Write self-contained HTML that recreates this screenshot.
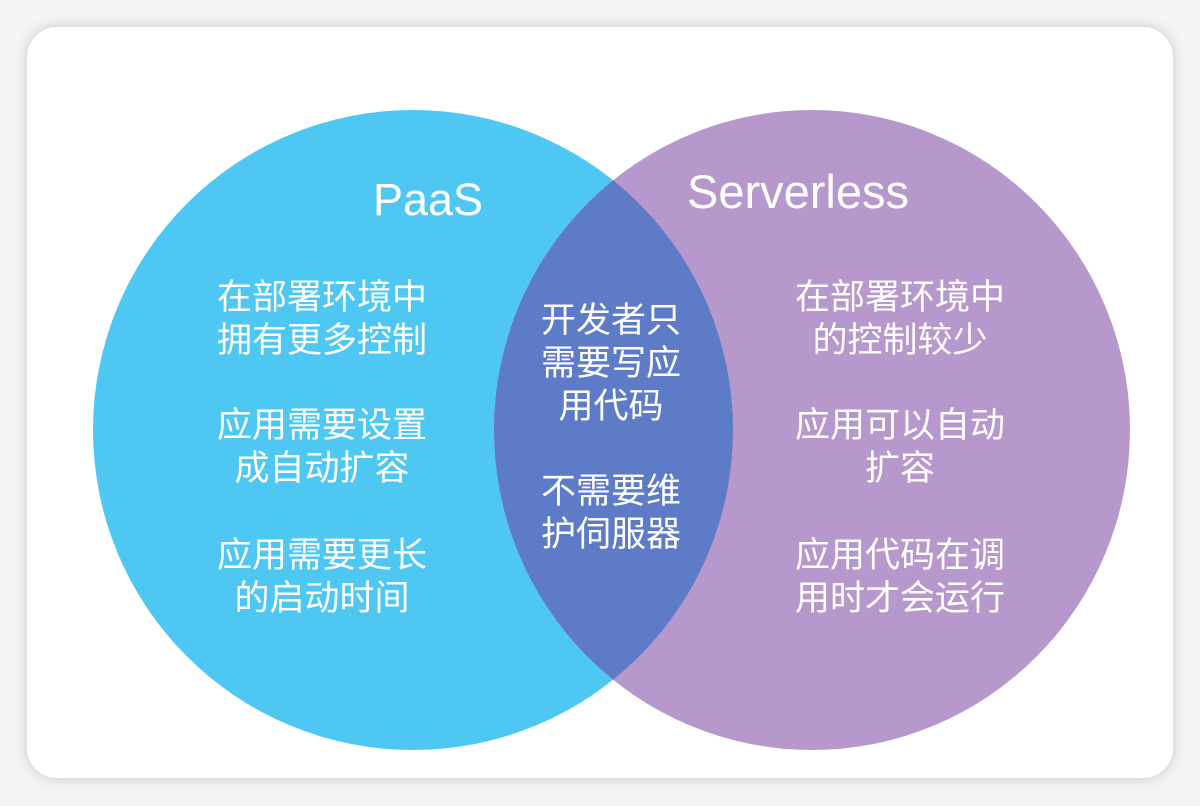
<!DOCTYPE html>
<html><head><meta charset="utf-8"><style>
html,body{margin:0;padding:0;background:#f4f4f4;}
body{width:1200px;height:806px;position:relative;overflow:hidden;}
.card{position:absolute;left:27px;top:27px;width:1146px;height:751px;background:#fff;border-radius:30px;box-shadow:0 0 14px rgba(0,0,0,0.18);}
svg{position:absolute;left:0;top:0;}
text{font-family:"Liberation Sans","Noto Sans CJK SC",sans-serif;fill:#fff;text-anchor:middle;}
.c{font-size:35px;}
</style></head><body>
<div class="card"></div>
<svg width="1200" height="806" viewBox="0 0 1200 806">
<defs><clipPath id="lc"><ellipse cx="413" cy="430" rx="320" ry="320"/></clipPath></defs>
<ellipse cx="413" cy="430" rx="320" ry="320" fill="#4ec8f3"/>
<ellipse cx="812" cy="430" rx="318" ry="320" fill="#b698cd"/>
<ellipse cx="812" cy="430" rx="318" ry="320" fill="#5e7bc8" clip-path="url(#lc)"/>
<text x="428" y="215" font-size="45">PaaS</text>
<text x="798" y="208" font-size="47">Serverless</text>
<g class="c">
<text x="322" y="309">在部署环境中</text>
<text x="322" y="352">拥有更多控制</text>
<text x="322" y="437">应用需要设置</text>
<text x="322" y="480">成自动扩容</text>
<text x="322" y="567">应用需要更长</text>
<text x="322" y="610">的启动时间</text>
<text x="611" y="332">开发者只</text>
<text x="611" y="375">需要写应</text>
<text x="611" y="418">用代码</text>
<text x="611" y="503">不需要维</text>
<text x="611" y="546">护伺服器</text>
<text x="900" y="309">在部署环境中</text>
<text x="900" y="352">的控制较少</text>
<text x="900" y="437">应用可以自动</text>
<text x="900" y="480">扩容</text>
<text x="900" y="567">应用代码在调</text>
<text x="900" y="610">用时才会运行</text>
</g>
</svg>
</body></html>
